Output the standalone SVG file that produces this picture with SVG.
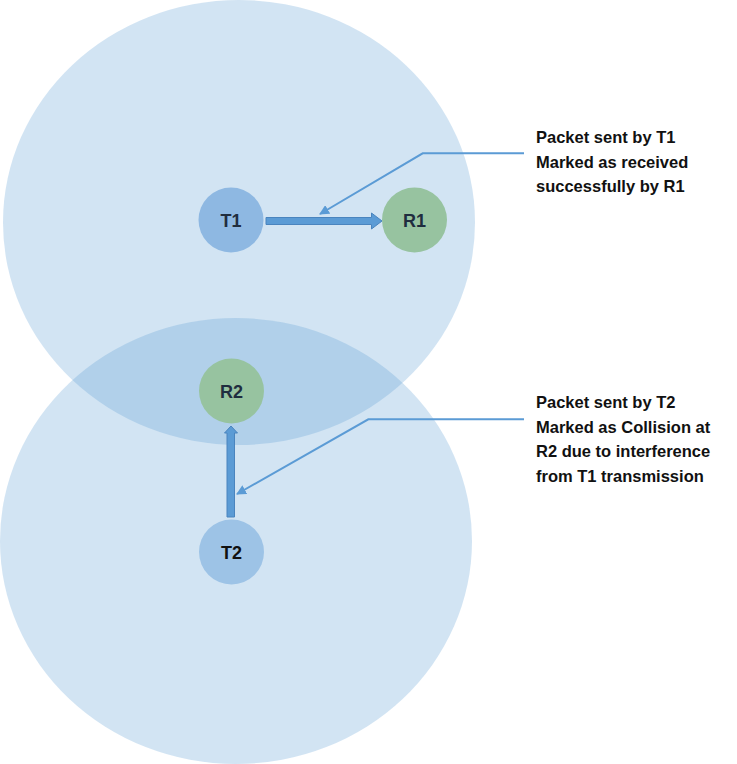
<svg xmlns="http://www.w3.org/2000/svg" width="737" height="764" viewBox="0 0 737 764">
<defs>
<style>
.range{fill:#5B9BD5;fill-opacity:0.275;}
.tx{fill:#8EB8E2;}
.tx2{fill:#9DC3E6;}
.rx{fill:#97C3A0;}
.nlabel{font-family:"Liberation Sans",Arial,sans-serif;font-weight:bold;font-size:18px;fill:#1F2D3F;text-anchor:middle;}
.note{font-family:"Liberation Sans",Arial,sans-serif;font-weight:bold;font-size:16.5px;fill:#111111;}
.call{fill:none;stroke:#5B9BD5;stroke-width:2;marker-end:url(#head);}
.block{fill:#5B9BD5;stroke:#4A84BE;stroke-width:1;}
</style>
<marker id="head" viewBox="0 0 10 10" refX="9" refY="5" markerWidth="5" markerHeight="5" orient="auto" markerUnits="strokeWidth">
<path d="M0,0 L10,5 L0,10 z" fill="#5B9BD5"/>
</marker>
</defs>
<rect width="737" height="764" fill="#FFFFFF"/>
<g id="ranges">
<ellipse class="range" cx="239" cy="222.5" rx="236" ry="222.5"/>
<ellipse class="range" cx="236" cy="541" rx="236" ry="223"/>
</g>
<g id="connectors">
<polygon class="block" points="266,217.5 371.5,217.5 371.5,213 382,221 371.5,229 371.5,224.5 266,224.5"/>
<polygon class="block" points="227,517 227,433 224.5,433 231,426 237.5,433 234.5,433 234.5,517"/>
<polyline class="call" points="524,153.3 422.7,153.3 320,214"/>
<polyline class="call" points="524,419.3 368.3,419.3 237,494"/>
</g>
<g id="T1">
<circle class="tx" cx="231" cy="220" r="32.5"/>
<text class="nlabel" x="231" y="226.5">T1</text>
</g>
<g id="R1">
<circle class="rx" cx="414.5" cy="220" r="32.5"/>
<text class="nlabel" x="414.5" y="226.5">R1</text>
</g>
<g id="R2">
<circle class="rx" cx="231.5" cy="391" r="32.5"/>
<text class="nlabel" x="231.5" y="397.5">R2</text>
</g>
<g id="T2">
<circle class="tx2" cx="231.5" cy="552" r="32.5"/>
<text class="nlabel" x="231.5" y="558.5" style="fill:#111111">T2</text>
</g>
<g id="note1">
<text class="note" x="536" y="143">Packet sent by T1</text>
<text class="note" x="536" y="167.5">Marked as received</text>
<text class="note" x="536" y="192">successfully by R1</text>
</g>
<g id="note2">
<text class="note" x="536" y="408">Packet sent by T2</text>
<text class="note" x="536" y="432.5">Marked as Collision at</text>
<text class="note" x="536" y="457">R2 due to interference</text>
<text class="note" x="536" y="481.5">from T1 transmission</text>
</g>
</svg>
